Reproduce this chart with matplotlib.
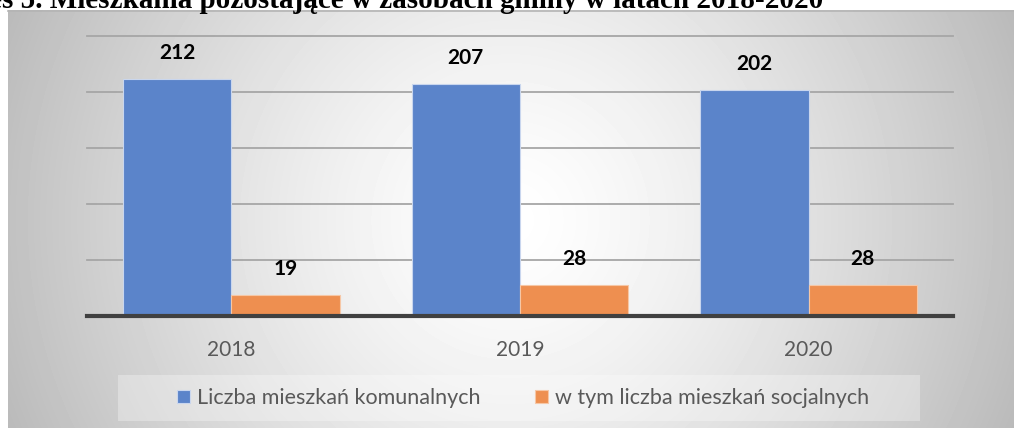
import matplotlib
matplotlib.use("Agg")
import matplotlib.pyplot as plt
from matplotlib.patches import Patch, Rectangle
import numpy as np

# Dane
lata = ["2018", "2019", "2020"]
komunalne = [212, 207, 202]
socjalne = [19, 28, 28]
serie = ["Liczba mieszkań komunalnych", "w tym liczba mieszkań socjalnych"]
tytul = "Wykres 5. Mieszkania pozostające w zasobach gminy w latach 2018-2020"

W, H = 1014, 428
niebieski = "#5b84ca"
pomaranczowy = "#ee8f50"
szary_txt = "#595959"

fig = plt.figure(figsize=(W / 100, H / 100), dpi=100)
fig.patch.set_facecolor("white")

def fx(px):
    return px / W

def fy(py):
    return 1 - py / H

# tlo wykresu - gradient radialny
bg = fig.add_axes([fx(8), 0, 1 - fx(8), fy(10)])
bg.set_axis_off()
gw, gh = W - 8, H - 10
yy, xx = np.mgrid[0:gh, 0:gw]
r = np.sqrt((xx - 502) ** 2 + ((yy - 210) * 1.0) ** 2) / 520.0
val = 255 - (255 - 190) * np.clip(r, 0, 1.2) ** 1.35
val = np.clip(val, 180, 255) / 255.0
bg.imshow(val, cmap="gray", vmin=0, vmax=1, aspect="auto", interpolation="bilinear")
fig.add_artist(plt.Line2D([fx(8), 1], [fy(10.5), fy(10.5)], color="#b4b4b4", lw=1.2))

# tytul (ucięty u góry, jak w oryginale)
fig.text(fx(823), fy(8), tytul, ha="right", va="baseline", fontsize=21,
         fontweight="bold", family="Liberation Serif", color="black")

# wykres
ax = fig.add_axes([fx(87), fy(316), fx(953 - 87), (316 - 36) / H])
ax.set_facecolor("none")
x = np.arange(len(lata))
w = 0.375
b1 = ax.bar(x - w / 2, komunalne, w, color=niebieski, edgecolor="#c9d6ee", linewidth=0.8, zorder=3)
b2 = ax.bar(x + w / 2, socjalne, w, color=pomaranczowy, edgecolor="#f6c7a6", linewidth=0.8, zorder=3)

ax.set_xlim(-0.5, 2.5)
ax.set_ylim(0, 250)
for v in [50, 100, 150, 200, 250]:
    ax.axhline(v, color="#a6a6a6", lw=1.3, zorder=1, clip_on=False)
ax.axhline(0, color="#404040", lw=3, zorder=4, clip_on=False)
for s in ax.spines.values():
    s.set_visible(False)
ax.set_yticks([])
ax.set_xticks(x)
ax.set_xticklabels(lata, fontsize=15, color=szary_txt, family="Lato")
ax.tick_params(axis="x", length=0, pad=17)

for bars in (b1, b2):
    for b in bars:
        ax.annotate(str(int(b.get_height())), (b.get_x() + b.get_width() / 2, b.get_height()),
                    xytext=(0, 18.5), textcoords="offset points", ha="center", va="center",
                    fontsize=15, fontweight="bold", family="Lato", color="black", zorder=5)

# legenda
fig.add_artist(Rectangle((fx(118), fy(421)), fx(920 - 118), (421 - 375) / H,
                         transform=fig.transFigure, facecolor="white", alpha=0.3,
                         edgecolor="none"))
uchwyty = [Patch(facecolor=niebieski, edgecolor="#c9d6ee", lw=0.8),
           Patch(facecolor=pomaranczowy, edgecolor="#f6c7a6", lw=0.8)]
leg = fig.legend(uchwyty, serie, loc="center", bbox_to_anchor=(fx(523), fy(398)),
                 ncol=2, frameon=False, handlelength=0.6, handleheight=0.6,
                 handletextpad=0.33, columnspacing=2.5,
                 prop={"family": "Lato", "size": 15.5})
for t in leg.get_texts():
    t.set_color(szary_txt)

fig.savefig("out.png", dpi=100)
